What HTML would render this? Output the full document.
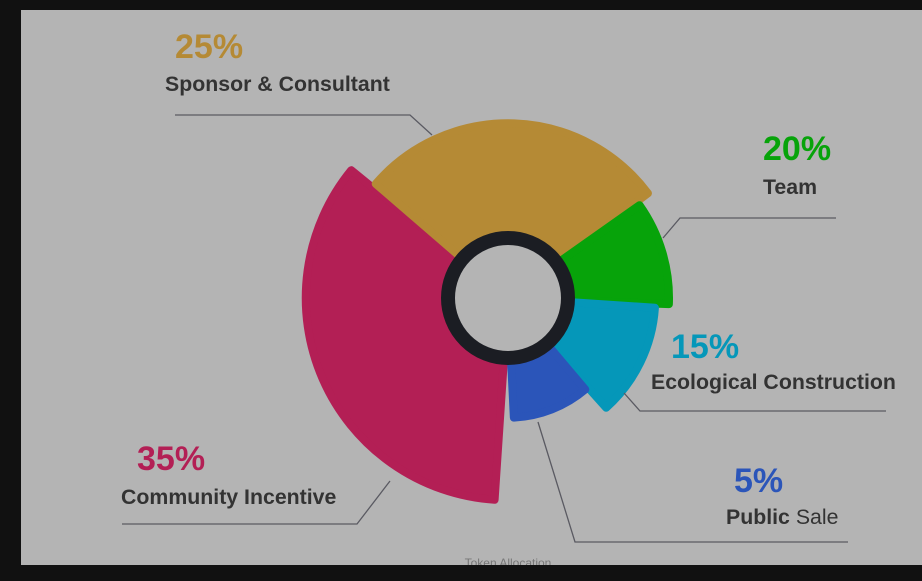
<!DOCTYPE html>
<html><head><meta charset="utf-8"><style>
html,body{margin:0;padding:0;background:#111;}
body{width:922px;height:581px;overflow:hidden;position:relative;font-family:"Liberation Sans",sans-serif;}
#panel{position:absolute;left:21px;top:10px;width:901px;height:555px;background:#b4b4b4;overflow:hidden;}
</style></head><body>
<div id="panel"></div>
<svg id="chart" width="922" height="581" style="position:absolute;left:0;top:0">
<defs><clipPath id="pc"><rect x="21" y="10" width="901" height="555"/></clipPath></defs>
<g id="marks" clip-path="url(#pc)"></g>
</svg>
<script>
const categories = ["Community Incentive","Sponsor & Consultant","Team","Ecological Construction","Public Sale"];
const values = [35,25,20,15,5];
const sweeps = [127,104,39,46,39]; // degrees as drawn in the picture
const colors = ["#b31f55","#b58a35","#07a30a","#0597b9","#2b55b9"];
const startAngle = 93;
const cx=508, cy=298;
function radiusOf(v){return 110+2.75*v;}
const NS="http://www.w3.org/2000/svg";
const g=document.getElementById('marks');
function el(t,a){const e=document.createElementNS(NS,t);for(const k in a)e.setAttribute(k,a[k]);g.appendChild(e);return e;}
function pt(r,deg){const a=deg*Math.PI/180;return [cx+r*Math.cos(a),cy+r*Math.sin(a)];}
let ang=startAngle;
for(let i=0;i<values.length;i++){
  const r=radiusOf(values[i])-4, a0=ang+0.8, a1=ang+sweeps[i]-0.8;
  const p0=pt(r,a0), p1=pt(r,a1), c0=pt(6,a0), c1=pt(6,a1);
  const d=`M${c0[0]},${c0[1]} L${p0[0]},${p0[1]} A${r},${r} 0 ${sweeps[i]>180?1:0} 1 ${p1[0]},${p1[1]} L${c1[0]},${c1[1]} Z`;
  const p=el('path',{d:d,fill:colors[i],stroke:colors[i],'stroke-width':8,'stroke-linejoin':'round'});
  
  
  ang+=sweeps[i];
}
const ring=el('circle',{cx:cx,cy:cy,r:60,fill:'#b4b4b4',stroke:'#1b1d23','stroke-width':14});


const leaders=[
 "122,524 357,524 390,481",
 "175,115 410,115 432,135",
 "836,218 680,218 663,238",
 "886,411 640,411 624,393",
 "538,422 575,542 848,542"];
const labelPos=[[137,470,121,504],[175,58,165,91],[763,160,763,194],[671,358,651,389],[734,492,726,524]];
for(let i=0;i<values.length;i++){
  const l=el('polyline',{points:leaders[i],fill:'none',stroke:'#5a5a62','stroke-width':1.3});
  
  
  const [px,py,nx,ny]=labelPos[i];
  const t=el('text',{x:px,y:py,fill:colors[i],'font-size':34,'font-weight':'bold'});
  t.textContent=values[i]+'%';
  
  
  const n=el('text',{x:nx,y:ny,fill:'#333','font-size':21.3,'font-weight':'bold'});
  if(i===4){n.innerHTML='Public <tspan font-weight="normal">Sale</tspan>';}
  else n.textContent=categories[i];
  
  
}
const tt=el('text',{x:508,y:567,'text-anchor':'middle',fill:'#777','font-size':12});
tt.textContent='Token Allocation';


</script>
</body></html>
